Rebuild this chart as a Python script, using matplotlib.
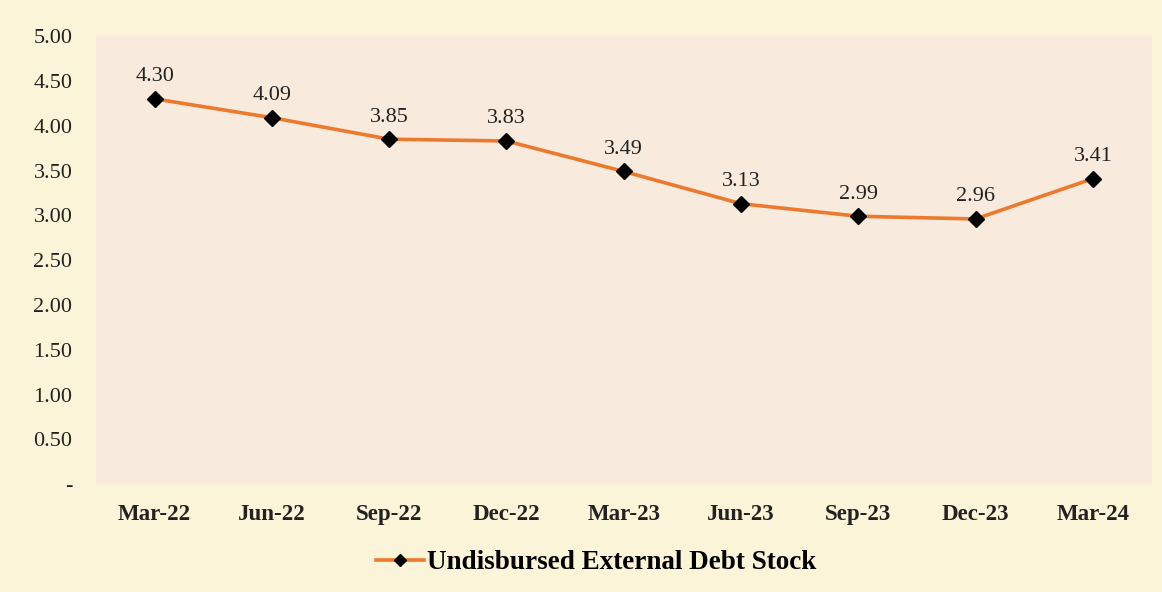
import matplotlib.pyplot as plt
from matplotlib.ticker import FixedLocator

# data
quarters = ['Mar-22', 'Jun-22', 'Sep-22', 'Dec-22', 'Mar-23',
            'Jun-23', 'Sep-23', 'Dec-23', 'Mar-24']
debt_stock = [4.30, 4.09, 3.85, 3.83, 3.49, 3.13, 2.99, 2.96, 3.41]
y_ticks = [0, 0.5, 1.0, 1.5, 2.0, 2.5, 3.0, 3.5, 4.0, 4.5, 5.0]

plt.rcParams['font.family'] = ['Liberation Serif', 'DejaVu Serif']

fig = plt.figure(figsize=(11.62, 5.92), dpi=100)
fig.patch.set_facecolor('#fbf4d8')
ax = fig.add_axes([0.0826, 0.182, 0.9084, 0.757])
ax.set_facecolor('#f8eadc')

x = list(range(len(quarters)))
line, = ax.plot(x, debt_stock, color='#ec7a2e', linewidth=2.6,
                marker='D', markersize=8, markerfacecolor='black',
                markeredgecolor='black', label='Undisbursed External Debt Stock')

for xi, v in zip(x, debt_stock):
    ax.annotate(f'{v:.2f}', (xi, v), xytext=(0, 9), textcoords='offset points',
                ha='center', va='bottom', fontsize=16, color='#222222')

ax.set_xlim(-0.5, len(quarters) - 0.5)
ax.set_ylim(0, 5.0)
ax.yaxis.set_major_locator(FixedLocator(y_ticks))
ax.set_yticklabels(['-' if t == 0 else f'{t:.2f}' for t in y_ticks])
ax.set_xticks(x)
ax.set_xticklabels(quarters, fontweight='bold')
ax.tick_params(axis='y', length=0, pad=17, labelsize=16, labelcolor='#222222')
ax.tick_params(axis='x', length=0, pad=14, labelsize=16.5, labelcolor='#222222')
for s in ax.spines.values():
    s.set_visible(False)

fig.legend(handles=[line], loc='center', bbox_to_anchor=(0.513, 0.049),
           frameon=False, prop={'weight': 'bold', 'size': 19.5},
           handlelength=1.8, handletextpad=0.1, markerscale=0.8)

fig.savefig('out.png', dpi=100, facecolor=fig.get_facecolor())
